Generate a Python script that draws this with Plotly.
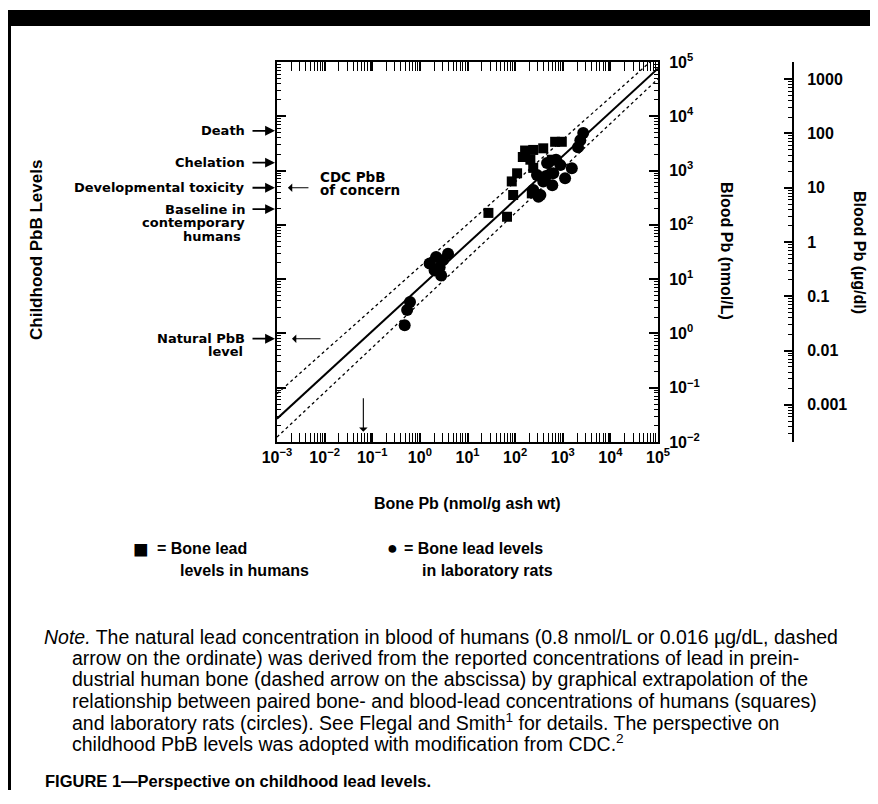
import math
import plotly.graph_objects as go

# ---------------- data ----------------
# Humans (squares): bone Pb (nmol/g ash wt) vs blood Pb (nmol/L)
human_bone = [27.5, 67.6, 85, 110, 91, 162, 240, 389, 692, 955, 209, 240, 224, 589, 145]
human_blood = [166, 141, 631, 891, 355, 2340, 2400, 2570, 3390, 3390, 1585, 1120, 380, 1585, 1780]

# Laboratory rats (circles)
rat_bone = [0.48, 0.54, 0.62, 1.6, 2.2, 2.6, 2.8, 3.9, 2.04, 3.05,
            2340, 2690, 2090, 1550, 1120, 389, 339, 240, 631, 468, 724, 891, 288, 447, 603, 309]
rat_blood = [1.41, 2.69, 3.8, 19.5, 25.7, 16.6, 11.7, 29.5, 14.5, 22.4,
             3630, 4900, 2690, 1100, 724, 631, 355, 437, 891, 1380, 1585, 1260, 832, 794, 537, 331]

# regression line and its bounds
fit_bone = [1e-3, 1e5]
fit_blood = [0.0269, 75900]
upper_blood = [0.0776, 134900]
lower_blood = [0.0123, 48980]

# childhood PbB levels (nmol/L)
level_names = ["Death", "Chelation", "Developmental toxicity", "Baseline in", "Natural PbB"]
level_values = [5400, 1400, 483, 195, 0.8]
preindustrial_bone = 0.065     # nmol/g ash wt (arrow on abscissa)
preindustrial_blood = 0.0155   # arrow tip

NMOL_PER_UGDL = 48.26

x_ticks = [10.0 ** k for k in range(-3, 6)]
x_ticktext = ["10<sup>%s</sup>" % (str(k).replace("-", "\u2212")) for k in range(-3, 6)]
y_ticks = [10.0 ** k for k in range(-2, 6)]
y_ticktext = ["10<sup>%s</sup>" % (str(k).replace("-", "\u2212")) for k in range(-2, 6)]
y2_ticks = [0.001, 0.01, 0.1, 1, 10, 100, 1000]
y2_ticktext = ["0.001", "0.01", "0.1", "1", "10", "100", "1000"]

# ---------------- geometry helpers (page pixel coordinates) ----------------
PAGE_W, PAGE_H = 878, 804
OFF = 8                                  # page margin of the html body
FIG_W, FIG_H = PAGE_W - 2 * OFF, PAGE_H - 2 * OFF - 6
L, R, T, B = 277, 858, 62, 442           # plot area on the page
PW, PH = R - L, B - T


def px(X):
    return (X - L) / PW


def py(Y):
    return (B - Y) / PH


SANS = "Liberation Sans, Arial, sans-serif"
ROUND = "DejaVu Sans, sans-serif"

fig = go.Figure()

fig.add_trace(go.Scatter(x=fit_bone, y=upper_blood, mode="lines",
                         line=dict(color="black", width=1.3, dash="dot"), showlegend=False))
fig.add_trace(go.Scatter(x=fit_bone, y=lower_blood, mode="lines",
                         line=dict(color="black", width=1.3, dash="dot"), showlegend=False))
fig.add_trace(go.Scatter(x=fit_bone, y=fit_blood, mode="lines",
                         line=dict(color="black", width=2), showlegend=False))
fig.add_trace(go.Scatter(x=human_bone, y=human_blood, mode="markers",
                         marker=dict(symbol="square", size=10, color="black"), showlegend=False))
fig.add_trace(go.Scatter(x=rat_bone, y=rat_blood, mode="markers",
                         marker=dict(symbol="circle", size=12, color="black"), showlegend=False))
fig.add_trace(go.Scatter(x=[1], y=[1], yaxis="y2", mode="markers",
                         marker=dict(opacity=0), showlegend=False, hoverinfo="skip"))

tickfont = dict(family=SANS, size=16, color="black", weight="bold")
minor = dict(ticks="inside", ticklen=4, tickwidth=1, tickcolor="black", dtick="D1", showgrid=False)

fig.update_layout(
    width=FIG_W, height=FIG_H, autosize=False,
    margin=dict(l=L - OFF, r=(OFF + FIG_W) - R, t=T - OFF, b=(OFF + FIG_H) - B, pad=0,
                autoexpand=False),
    paper_bgcolor="white", plot_bgcolor="white",
    showlegend=False,
    xaxis=dict(type="log", range=[-3, 5], domain=[0, px(658)],
               showgrid=False, zeroline=False, showline=True, linewidth=2, linecolor="black",
               mirror="allticks", ticks="inside", ticklen=9, tickwidth=1.5, tickcolor="black",
               tickmode="array", tickvals=x_ticks, ticktext=x_ticktext, tickfont=tickfont,
               minor=minor),
    yaxis=dict(type="log", range=[-2, 5], side="right",
               showgrid=False, zeroline=False, showline=True, linewidth=2, linecolor="black",
               mirror="allticks", ticks="inside", ticklen=9, tickwidth=1.5, tickcolor="black",
               tickmode="array", tickvals=y_ticks, ticktext=y_ticktext, tickfont=tickfont,
               ticklabelstandoff=6, minor=minor),
    yaxis2=dict(type="log", overlaying="y", anchor="free", position=px(793), side="right",
                range=[math.log10(0.01 / NMOL_PER_UGDL), math.log10(1e5 / NMOL_PER_UGDL)],
                showgrid=False, zeroline=False, showline=True, linewidth=2, linecolor="black",
                ticks="inside", ticklen=8, tickwidth=1.5, tickcolor="black",
                tickmode="array", tickvals=y2_ticks, ticktext=y2_ticktext, tickfont=tickfont,
                ticklabelstandoff=10, minor=minor),
)

ann = []


def text(x, y, s, size=16, family=SANS, bold=True, xanchor="center", angle=0):
    ann.append(dict(xref="paper", yref="paper", x=px(x), y=py(y), text=s, showarrow=False,
                    xanchor=xanchor, yanchor="middle", textangle=angle,
                    font=dict(family=family, size=size, color="black",
                              weight="bold" if bold else "normal")))


# axis titles
text(36, 250, "Childhood PbB Levels", size=17, angle=-90)
text(727, 251, "Blood Pb (nmol/L)", size=16, angle=90)
text(860, 252, "Blood Pb (\u00b5g/dl)", size=16, angle=90)
text(467, 503, "Bone Pb (nmol/g ash wt)", size=16)

# left level labels with arrows to the axis
for name, val in zip(level_names, level_values):
    ly = math.log10(val)
    ann.append(dict(xref="paper", yref="y", x=px(247), y=ly, text=name, showarrow=False,
                    xanchor="right", yanchor="middle",
                    font=dict(family=ROUND, size=13, color="black", weight="bold")))
    ann.append(dict(xref="paper", yref="y", x=px(275), y=ly, text="", showarrow=True,
                    axref="pixel", ayref="pixel", ax=-24, ay=0, arrowhead=2, arrowsize=1.1,
                    arrowwidth=1.8, arrowcolor="black", standoff=0, startstandoff=0))

sub_lines = [("contemporary", math.log10(level_values[3]), -13.5, 247),
             ("humans", math.log10(level_values[3]), -27, 243),
             ("level", math.log10(level_values[4]), -13, 245)]
for s, ly, dy, xr in sub_lines:
    ann.append(dict(xref="paper", yref="y", x=px(xr), y=ly, yshift=dy, text=s, showarrow=False,
                    xanchor="right", yanchor="middle",
                    font=dict(family=ROUND, size=13, color="black", weight="bold")))

# inside arrows
ann.append(dict(xref="x", yref="y", x=-2.77, y=math.log10(level_values[2]), text="", showarrow=True,
                axref="pixel", ayref="pixel", ax=22, ay=0, arrowhead=1, arrowsize=1.3,
                arrowwidth=1.1, arrowcolor="black", standoff=0))
ann.append(dict(xref="x", yref="y", x=-2.685, y=math.log10(level_values[4]), text="", showarrow=True,
                axref="pixel", ayref="pixel", ax=30, ay=0, arrowhead=1, arrowsize=1.3,
                arrowwidth=1.1, arrowcolor="black", standoff=0))
ann.append(dict(xref="x", yref="y", x=math.log10(preindustrial_bone), y=math.log10(preindustrial_blood),
                text="", showarrow=True, axref="pixel", ayref="pixel", ax=0, ay=-35, arrowhead=1,
                arrowsize=1.3, arrowwidth=1.1, arrowcolor="black", standoff=0))
ann.append(dict(xref="paper", yref="paper", x=px(318), y=py(177), text="CDC PbB", showarrow=False,
                xanchor="left", yanchor="middle",
                font=dict(family=ROUND, size=13.5, color="black", weight="bold")))
ann.append(dict(xref="paper", yref="paper", x=px(318), y=py(190), text="of concern", showarrow=False,
                xanchor="left", yanchor="middle",
                font=dict(family=ROUND, size=13.5, color="black", weight="bold")))

# legend (symbol key)
text(141, 549, "\u25a0", size=26, xanchor="center")
text(155, 548, "= Bone lead", size=16, xanchor="left")
text(178, 570, "levels in humans", size=16, xanchor="left")
text(392, 548, "\u25cf", size=18, xanchor="center")
text(402, 548, "= Bone lead levels", size=16, xanchor="left")
text(420, 570, "in laboratory rats", size=16, xanchor="left")

# note
note_lines = [
    "<i>Note.</i> The natural lead concentration in blood of humans (0.8 nmol/L or 0.016 \u00b5g/dL, dashed",
    "arrow on the ordinate) was derived from the reported concentrations of lead in prein-",
    "dustrial human bone (dashed arrow on the abscissa) by graphical extrapolation of the",
    "relationship between paired bone- and blood-lead concentrations of humans (squares)",
    "and laboratory rats (circles). See Flegal and Smith<sup>1</sup> for details. The perspective on",
    "childhood PbB levels was adopted with modification from CDC.<sup>2</sup>",
]
for i, s in enumerate(note_lines):
    text(42 if i == 0 else 70, 637 + 21.2 * i, s, size=19.5, bold=False, xanchor="left")

text(43, 781, "FIGURE 1\u2014Perspective on childhood lead levels.", size=16.5, xanchor="left")

fig.update_layout(annotations=ann)

# page frame
fig.update_layout(shapes=[
    dict(type="rect", xref="paper", yref="paper", x0=px(7), x1=px(890), y0=py(26), y1=py(10),
         fillcolor="black", line=dict(width=0), layer="above"),
    dict(type="rect", xref="paper", yref="paper", x0=px(7), x1=px(11), y0=py(810), y1=py(10),
         fillcolor="black", line=dict(width=0), layer="above"),
])

fig.write_html("out.html", config={"responsive": False})
